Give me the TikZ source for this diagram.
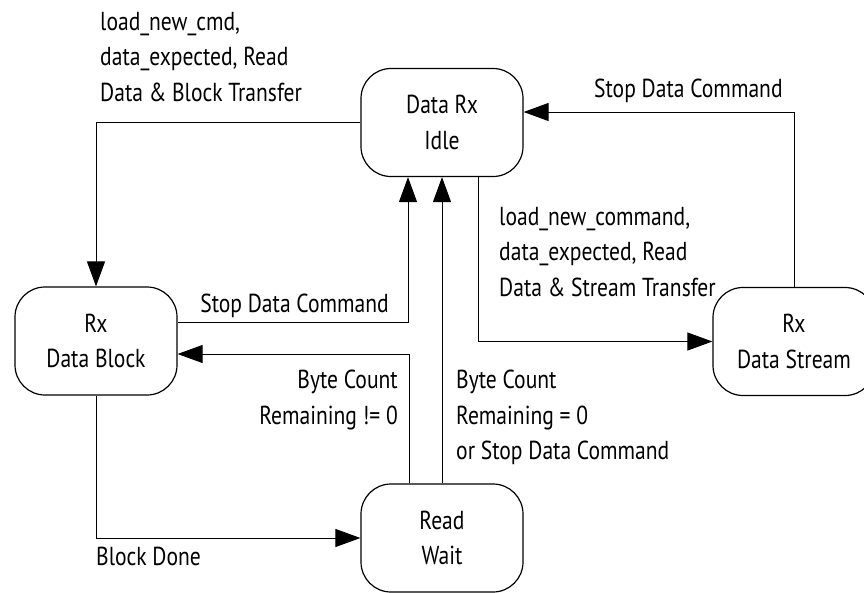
\documentclass[tikz,border=0pt]{standalone}
\usepackage{fontspec}
\setmainfont{PT Sans}[FakeStretch=0.83]
\usetikzlibrary{arrows.meta,positioning}

\tikzset{
	state/.style={draw, line width=1.2pt, rounded corners=30pt, minimum width=162pt, minimum height=108pt, align=center, inner sep=0pt},
	flow/.style={line width=1pt, -{Triangle[length=25pt,width=18pt]}},
	cond/.style={inner sep=0pt},
}

\begin{document}
\begin{tikzpicture}[x=1pt, y=-1pt, font=\fontsize{26}{35.5}\selectfont]
		\useasboundingbox (0,0) rectangle (864,592);
		
		% States
		\node[state] (idle)   at (442,122.5) {Data Rx\\Idle};
		\node[state] (block)  at (96,341)    {Rx\\Data Block};
		\node[state] (stream) at (794,341.5) {Rx\\Data Stream};
		\node[state] (wait)   at (442,538)   {Read\\Wait};
		
		% Transitions
		\draw[flow] (idle.west) -| (block.north);
		\draw[flow] ([yshift=19pt]block.east) -| ([xshift=-34pt]idle.south);
		\draw[flow] ([xshift=-33pt]wait.north) |- ([yshift=-13pt]block.east);
		\draw[flow] (wait.north) -- (idle.south);
		\draw[flow] ([xshift=36pt]idle.south) |- (stream.west);
		\draw[flow] (stream.north) |- ([yshift=10.5pt]idle.east);
		\draw[flow] (block.south) |- (wait.west);
		
		% Conditions
		\node[cond, align=left, anchor=north west] (c1) at (100,12) {load\_new\_cmd,\\data\_expected, Read\\Data \& Block Transfer};
		\node[cond, align=left, anchor=north west] (c2) at (499,207) {load\_new\_command,\\data\_expected, Read\\Data \& Stream Transfer};
		\node[cond, anchor=base west] (c3) at (594,97) {Stop Data Command};
		\node[cond, anchor=base east] (c4) at (389,312) {Stop Data Command};
		\node[cond, align=right, anchor=north east] (c5) at (398,370) {Byte Count\\Remaining != 0};
		\node[cond, align=left, anchor=north west] (c6) at (456,370) {Byte Count\\Remaining = 0\\or Stop Data Command};
		\node[cond, anchor=base west] (c7) at (96,565) {Block Done};
	\end{tikzpicture}
\end{document}
